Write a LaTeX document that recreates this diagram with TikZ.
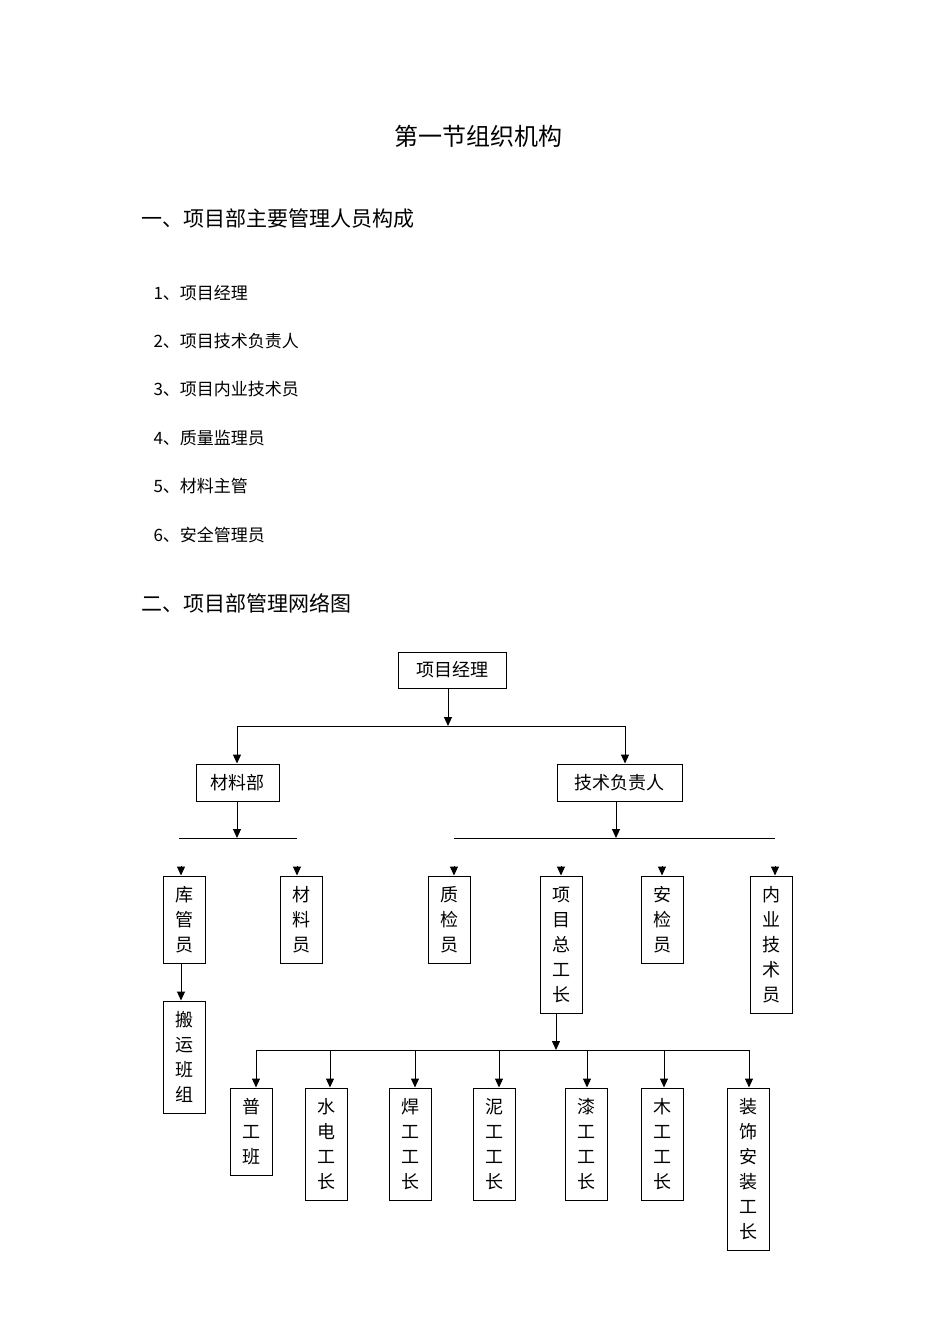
\documentclass[tikz,border=0pt]{standalone}
\usepackage{fontspec}
\setmainfont{Noto Sans CJK SC}
\usetikzlibrary{arrows.meta}
\begin{document}
\begin{tikzpicture}[x=1pt,y=-1pt,
  box/.style={draw,line width=1pt,inner sep=2pt,align=center,font={\fontsize{18}{25}\selectfont}},
  vbox/.style={box,minimum width=42pt,text width=20pt},
  arr/.style={line width=1pt,-{Triangle[length=9pt,width=8pt]}},
  ln/.style={line width=1pt}]
\useasboundingbox (0,0) rectangle (950,1344);
\node[font={\fontsize{24}{28}\selectfont}] (title) at (478,136) {第一节组织机构};
\node[anchor=west,font={\fontsize{21}{26}\selectfont}] (h1) at (138,219) {一、项目部主要管理人员构成};
\begin{scope}[every node/.style={anchor=west,font={\fontsize{17}{20}\selectfont}}]
\node (l1) at (150,293) {1、项目经理};
\node (l2) at (150,341) {2、项目技术负责人};
\node (l3) at (150,389) {3、项目内业技术员};
\node (l4) at (150,438) {4、质量监理员};
\node (l5) at (150,486) {5、材料主管};
\node (l6) at (150,535) {6、安全管理员};
\end{scope}
\node[anchor=west,font={\fontsize{21}{26}\selectfont}] (h2) at (138,603) {二、项目部管理网络图};

\node[box,minimum width=108pt,minimum height=36pt] (pm) at (452,670) {项目经理};
\node[box,minimum width=83pt,minimum height=37pt] (cl) at (237.5,782.5) {材料部};
\node[box,minimum width=125pt,minimum height=37pt] (js) at (619.5,782.5) {技术负责人};

\coordinate (j1) at (448,726);
\draw[arr] (pm.south -| j1) -- (j1);
\draw[ln] (237,726) coordinate (jl) -- (625,726) coordinate (jr);
\draw[arr] (jl) -- (cl.north -| jl);
\draw[arr] (jr) -- (js.north -| jr);

\coordinate (m1) at (237,838);
\draw[arr] (cl.south -| m1) -- (m1);
\draw[ln] (179,838) coordinate (ml) -- (297,838) coordinate (mr);
\coordinate (t1) at (616,838);
\draw[arr] (js.south -| t1) -- (t1);
\draw[ln] (454,838) coordinate (tl) -- (775,838) coordinate (tr);

\node[vbox,minimum height=87pt] (kg) at (184,919.5) {库\\管\\员};
\node[vbox,minimum height=87pt] (cy) at (301,919.5) {材\\料\\员};
\node[vbox,minimum height=87pt] (zj) at (449.5,919.5) {质\\检\\员};
\node[vbox,minimum height=137pt] (zg) at (561.5,944.5) {项\\目\\总\\工\\长};
\node[vbox,minimum height=87pt] (aj) at (662,919.5) {安\\检\\员};
\node[vbox,minimum height=137pt] (ny) at (771,944.5) {内\\业\\技\\术\\员};
\foreach \n/\xx in {kg/181,cy/297,zj/454,zg/561,aj/662,ny/775}{
  \coordinate (s\n) at (\xx,866);
  \draw[arr] (s\n) -- (\n.north -| s\n);
}
\node[vbox,minimum height=112pt] (by) at (184,1057) {搬\\运\\班\\组};
\draw[arr] (kg.south -| 181,0) -- (by.north -| 181,0);

\coordinate (g1) at (556,1050);
\draw[arr] (zg.south -| g1) -- (g1);
\draw[ln] (256,1050) -- (749,1050);
\node[vbox,minimum height=87pt] (pg) at (251,1131.5) {普\\工\\班};
\node[vbox,minimum height=112pt] (sd) at (326.5,1144) {水\\电\\工\\长};
\node[vbox,minimum height=112pt] (hg) at (410.5,1144) {焊\\工\\工\\长};
\node[vbox,minimum height=112pt] (ng) at (494.5,1144) {泥\\工\\工\\长};
\node[vbox,minimum height=112pt] (qg) at (586.5,1144) {漆\\工\\工\\长};
\node[vbox,minimum height=112pt] (mg) at (662.5,1144) {木\\工\\工\\长};
\node[vbox,minimum height=162pt] (zs) at (748.5,1169) {装\\饰\\安\\装\\工\\长};
\foreach \n/\xx in {pg/256,sd/330,hg/415,ng/499,qg/587,mg/664,zs/749}{
  \coordinate (b\n) at (\xx,1050);
  \draw[arr] (b\n) -- (\n.north -| b\n);
}
\end{tikzpicture}
\end{document}
